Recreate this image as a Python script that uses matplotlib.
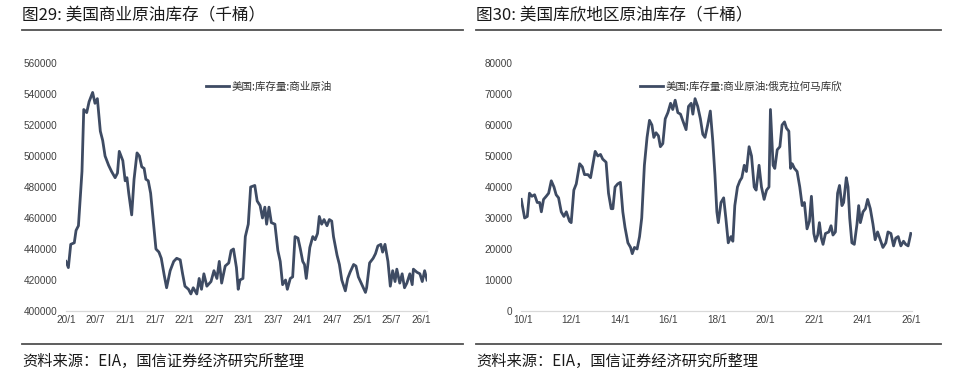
import matplotlib
matplotlib.use("Agg")
import matplotlib.pyplot as plt
from matplotlib.lines import Line2D

# ---------------- data ----------------
us_t = [2020.00, 2020.04, 2020.08, 2020.14, 2020.17, 2020.21, 2020.27, 2020.30, 2020.35, 2020.39,
        2020.45, 2020.49, 2020.53, 2020.58, 2020.62, 2020.66, 2020.72, 2020.77, 2020.83, 2020.87,
        2020.90, 2020.96, 2021.00, 2021.03, 2021.06, 2021.11, 2021.15, 2021.20, 2021.24, 2021.28,
        2021.32, 2021.35, 2021.39, 2021.43, 2021.47, 2021.52, 2021.57, 2021.61, 2021.66, 2021.70,
        2021.76, 2021.82, 2021.87, 2021.93, 2021.97, 2022.01, 2022.07, 2022.11, 2022.15, 2022.21,
        2022.25, 2022.29, 2022.33, 2022.38, 2022.45, 2022.50, 2022.55, 2022.59, 2022.63, 2022.69,
        2022.75, 2022.79, 2022.83, 2022.88, 2022.91, 2022.94, 2022.99, 2023.03, 2023.08, 2023.12,
        2023.19, 2023.23, 2023.28, 2023.32, 2023.36, 2023.39, 2023.43, 2023.47, 2023.53, 2023.58,
        2023.62, 2023.66, 2023.71, 2023.74, 2023.79, 2023.83, 2023.87, 2023.92, 2023.96, 2024.00,
        2024.03, 2024.06, 2024.12, 2024.17, 2024.21, 2024.25, 2024.28, 2024.32, 2024.36, 2024.41,
        2024.45, 2024.49, 2024.52, 2024.58, 2024.62, 2024.66, 2024.72, 2024.76, 2024.80, 2024.86,
        2024.90, 2024.94, 2025.00, 2025.06, 2025.08, 2025.13, 2025.19, 2025.23, 2025.27, 2025.32,
        2025.35, 2025.39, 2025.44, 2025.48, 2025.52, 2025.56, 2025.59, 2025.64, 2025.68, 2025.72,
        2025.76, 2025.81, 2025.85, 2025.87, 2025.93, 2025.98, 2026.02, 2026.06, 2026.10]
us_v = [432000, 428000, 443000, 444000, 452000, 455000, 490000, 530000, 528000, 535000,
        541000, 534000, 537000, 516000, 510000, 500000, 494000, 490000, 486000, 489000,
        503000, 497000, 484000, 486000, 476000, 462000, 485000, 502000, 500000, 493000,
        492000, 485000, 484000, 476000, 460000, 440000, 438000, 434000, 423000, 415000,
        426000, 432000, 434000, 433000, 424000, 416000, 414000, 411000, 415000, 411000,
        421000, 414000, 424000, 416000, 419000, 426000, 421000, 432000, 418000, 429000,
        431000, 439000, 440000, 428000, 414000, 420000, 421000, 448000, 456000, 480000,
        481000, 471000, 468000, 460000, 467000, 456000, 467000, 457000, 456000, 439000,
        432000, 417000, 420000, 414000, 421000, 422000, 448000, 447000, 440000, 432000,
        430000, 421000, 441000, 448000, 446000, 450000, 461000, 456000, 459000, 455000,
        459000, 458000, 448000, 436000, 430000, 420000, 413000, 421000, 425000, 430000,
        429000, 422000, 417000, 412000, 415000, 431000, 434000, 437000, 442000, 443000,
        438000, 443000, 432000, 416000, 426000, 419000, 427000, 418000, 424000, 415000,
        418000, 424000, 417000, 427000, 425000, 424000, 419000, 426000, 420000]

cushing_t = [2009.93, 2010.00, 2010.07, 2010.18, 2010.27, 2010.37, 2010.48, 2010.59, 2010.69, 2010.76,
             2010.85, 2010.96, 2011.06, 2011.17, 2011.28, 2011.37, 2011.47, 2011.58, 2011.69, 2011.79,
             2011.92, 2011.99, 2012.10, 2012.20, 2012.34, 2012.45, 2012.54, 2012.68, 2012.79, 2012.88,
             2012.98, 2013.09, 2013.20, 2013.29, 2013.43, 2013.53, 2013.64, 2013.71, 2013.80, 2013.91,
             2014.02, 2014.12, 2014.21, 2014.33, 2014.44, 2014.51, 2014.60, 2014.71, 2014.81, 2014.90,
             2015.01, 2015.12, 2015.22, 2015.32, 2015.40, 2015.49, 2015.59, 2015.67, 2015.77, 2015.87,
             2015.98, 2016.09, 2016.18, 2016.28, 2016.39, 2016.50, 2016.59, 2016.73, 2016.83, 2016.94,
             2017.01, 2017.10, 2017.21, 2017.32, 2017.42, 2017.51, 2017.62, 2017.73, 2017.83, 2017.92,
             2018.00, 2018.06, 2018.17, 2018.28, 2018.37, 2018.47, 2018.58, 2018.66, 2018.74, 2018.85,
             2018.95, 2019.03, 2019.13, 2019.22, 2019.33, 2019.43, 2019.54, 2019.62, 2019.74, 2019.84,
             2019.95, 2020.05, 2020.15, 2020.21, 2020.32, 2020.39, 2020.49, 2020.60, 2020.69, 2020.79,
             2020.87, 2020.97, 2021.04, 2021.11, 2021.20, 2021.31, 2021.42, 2021.52, 2021.61, 2021.72,
             2021.82, 2021.90, 2022.00, 2022.07, 2022.16, 2022.23, 2022.31, 2022.38, 2022.48, 2022.62,
             2022.71, 2022.79, 2022.89, 2022.98, 2023.06, 2023.16, 2023.23, 2023.34, 2023.41, 2023.48,
             2023.57, 2023.67, 2023.78, 2023.85, 2023.92, 2024.03, 2024.13, 2024.22, 2024.33, 2024.44,
             2024.53, 2024.63, 2024.74, 2024.85, 2024.97, 2025.06, 2025.18, 2025.29, 2025.38, 2025.48,
             2025.59, 2025.70, 2025.79, 2025.89, 2026.00]
cushing_v = [36000, 33000, 30000, 30500, 38000, 37000, 37500, 35000, 35000, 32000,
             36000, 37000, 38000, 42000, 40000, 37500, 36500, 32000, 30500, 32000,
             29000, 28500, 39000, 41000, 47500, 46500, 44000, 44000, 43000, 47000,
             51500, 50000, 50500, 49000, 48000, 38000, 33000, 33000, 40000, 41000,
             41500, 32000, 27000, 22000, 20500, 18500, 20500, 20000, 24000, 30000,
             47000, 56000, 61500, 60000, 56000, 57500, 56500, 53000, 54000, 62000,
             64000, 67000, 65000, 68000, 64000, 63500, 61500, 58500, 66000, 67000,
             63500, 68500, 66000, 62000, 57000, 56000, 60000, 64500, 55000, 44000,
             32000, 28500, 35000, 36500, 30000, 22000, 24000, 22500, 34000, 40000,
             42000, 43000, 47000, 45000, 53000, 50000, 40000, 39000, 47000, 40000,
             36000, 39000, 40000, 65000, 47000, 46000, 52000, 53000, 60000, 61000,
             59000, 58000, 46000, 47500, 46000, 45000, 40000, 34000, 35000, 26500,
             29000, 37000, 25000, 22500, 24500, 28500, 23500, 21500, 25000, 25500,
             27500, 24500, 25500, 38000, 40500, 34000, 35000, 43000, 40000, 30000,
             22000, 21500, 28000, 34000, 28500, 32000, 33000, 36000, 33000, 28000,
             23000, 25500, 23000, 20500, 22000, 25500, 25000, 21000, 23500, 24000,
             21000, 22500, 21500, 21000, 25000]

us_ticks = [2020.0, 2020.5, 2021.0, 2021.5, 2022.0, 2022.5, 2023.0, 2023.5, 2024.0, 2024.5, 2025.0, 2025.5, 2026.0]
us_ticklabels = ["20/1", "20/7", "21/1", "21/7", "22/1", "22/7", "23/1", "23/7", "24/1", "24/7", "25/1", "25/7", "26/1"]
us_yticks = [400000, 420000, 440000, 460000, 480000, 500000, 520000, 540000, 560000]

cu_ticks = [2010, 2012, 2014, 2016, 2018, 2020, 2022, 2024, 2026]
cu_ticklabels = ["10/1", "12/1", "14/1", "16/1", "18/1", "20/1", "22/1", "24/1", "26/1"]
cu_yticks = [0, 10000, 20000, 30000, 40000, 50000, 60000, 70000, 80000]

titles = ["图29: 美国商业原油库存（千桶）", "图30: 美国库欣地区原油库存（千桶）"]
legend_labels = ["美国:库存量:商业原油", "美国:库存量:商业原油:俄克拉何马库欣"]
source = "资料来源：EIA，国信证券经济研究所整理"

# ---------------- layout ----------------
W, H = 957, 371
fig = plt.figure(figsize=(W / 100, H / 100), dpi=100)
CJK = ["Noto Sans CJK SC", "DejaVu Sans"]
NUM = ["Liberation Sans", "DejaVu Sans"]
LINE_C = "#3e4b63"


def px_rect(x0, y0, x1, y1):
    return [x0 / W, 1 - y1 / H, (x1 - x0) / W, (y1 - y0) / H]


def style_axes(ax, xticks, xlabels, yticks, xlim, ylim):
    ax.set_xlim(*xlim)
    ax.set_ylim(*ylim)
    ax.set_xticks(xticks)
    ax.set_xticklabels(xlabels)
    ax.set_yticks(yticks)
    ax.set_yticklabels([str(v) for v in yticks])
    for s in ["top", "right", "left"]:
        ax.spines[s].set_visible(False)
    ax.spines["bottom"].set_color("#d9d9d9")
    ax.spines["bottom"].set_linewidth(0.9)
    ax.tick_params(axis="both", length=0, labelsize=7.2, colors="#404040")
    ax.tick_params(axis="y", pad=6.0)
    ax.tick_params(axis="x", pad=3.0)
    for lab in ax.get_xticklabels() + ax.get_yticklabels():
        lab.set_family(NUM)
    ax.patch.set_alpha(0)


ax1 = fig.add_axes(px_rect(66, 63, 427, 311))
ax1.plot(us_t, us_v, color=LINE_C, lw=2.0, label=legend_labels[0])
style_axes(ax1, us_ticks, us_ticklabels, us_yticks, (2020.0, 2026.1), (400000, 560000))

ax2 = fig.add_axes(px_rect(521, 63, 912, 311))
ax2.plot(cushing_t, cushing_v, color=LINE_C, lw=2.0, label=legend_labels[1])
style_axes(ax2, cu_ticks, cu_ticklabels, cu_yticks, (2009.92, 2026.05), (0, 80000))

for ax, (lx, ly) in [(ax1, (206, 87)), (ax2, (640, 86))]:
    leg = ax.legend(loc="center left", bbox_to_anchor=(lx / W, 1 - ly / H),
                    bbox_transform=fig.transFigure, frameon=False,
                    prop={"family": CJK, "size": 7.6}, handlelength=2.2,
                    handletextpad=0.2, borderpad=0, borderaxespad=0)
    for t in leg.get_texts():
        t.set_color("#303030")

# titles, rules and sources
for (x0, x1, title) in [(22, 463, titles[0]), (476, 941, titles[1])]:
    fig.text(x0 / W, 1 - 16 / H, title, family=CJK, fontsize=12,
             color="#1a1a1a", va="center", ha="left")
    fig.add_artist(Line2D([x0 / W, x1 / W], [1 - 30 / H, 1 - 30 / H],
                          color="#505050", lw=1.3, transform=fig.transFigure))
    fig.add_artist(Line2D([x0 / W, x1 / W], [1 - 344 / H, 1 - 344 / H],
                          color="#505050", lw=1.3, transform=fig.transFigure))
    fig.text(x0 / W, 1 - 361 / H, source, family=CJK, fontsize=11,
             color="#1a1a1a", va="center", ha="left")

fig.savefig("out.png", dpi=100)
